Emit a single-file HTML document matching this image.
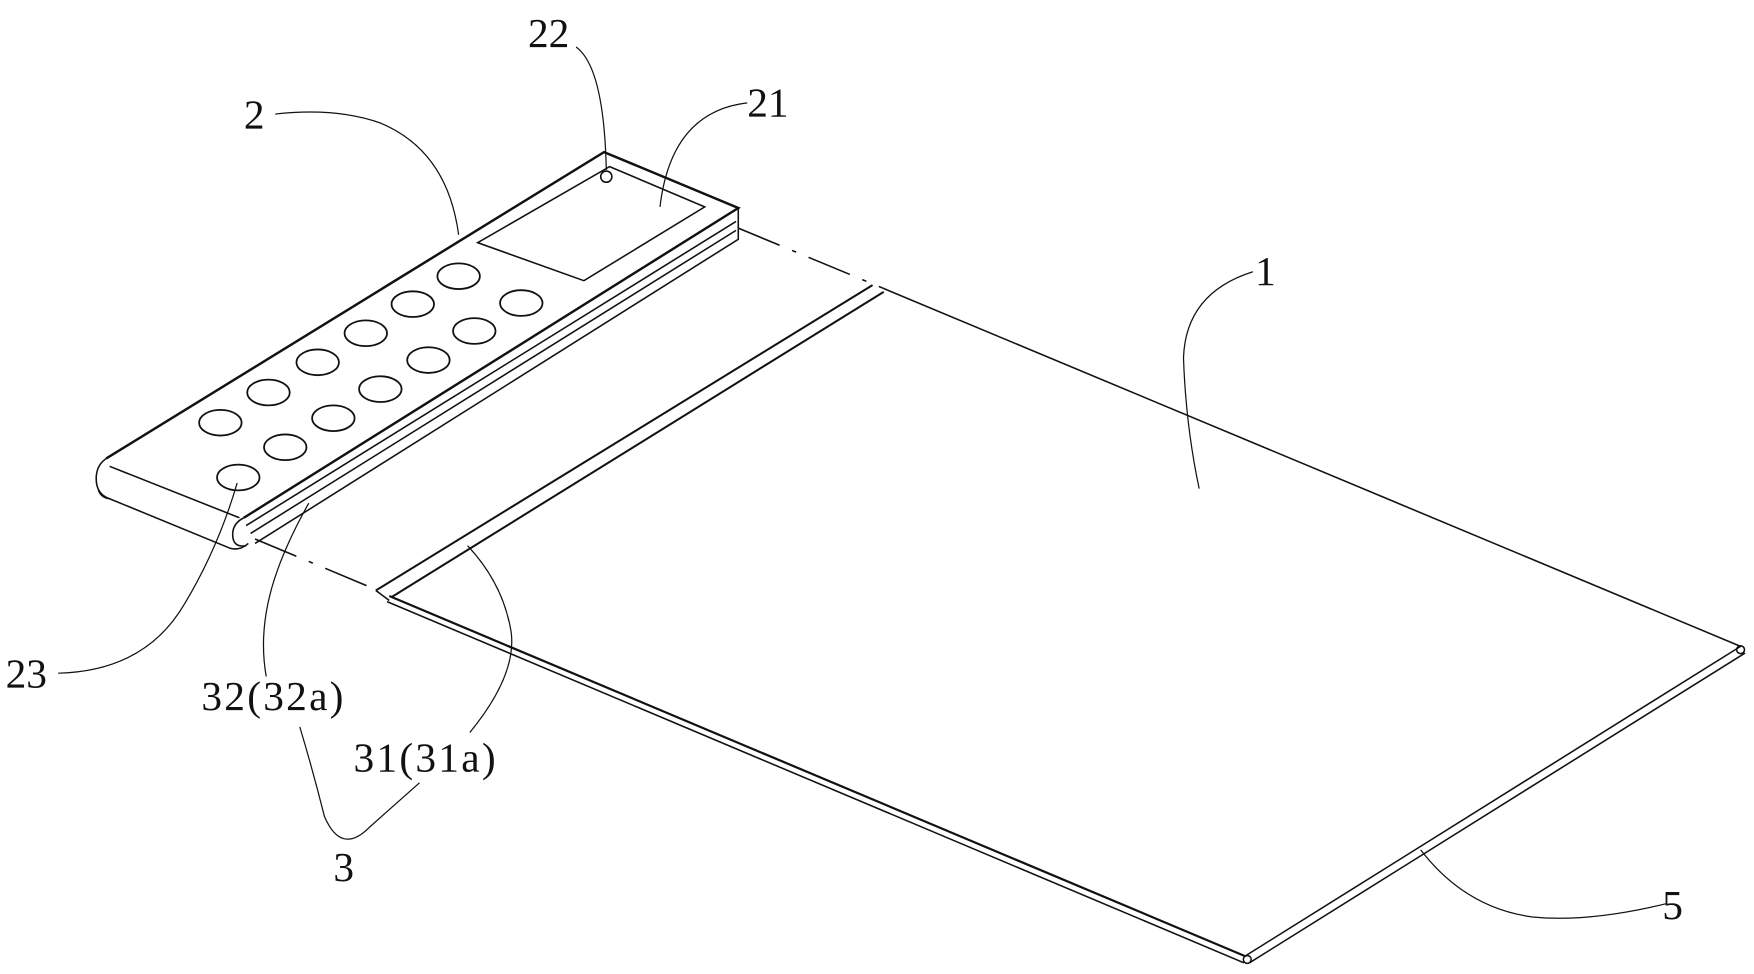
<!DOCTYPE html>
<html><head><meta charset="utf-8"><style>
html,body{margin:0;padding:0;background:#fff;}
svg{display:block}
text{font-family:"Liberation Serif",serif;font-size:37px;fill:#111}
</style></head><body>
<svg width="1754" height="974" viewBox="0 0 1568 871" preserveAspectRatio="none" xmlns="http://www.w3.org/2000/svg">
<g fill="none" stroke="#111" stroke-width="1.4">
<!-- sheet -->
<line x1="790" y1="258" x2="1556" y2="578"/>
<line x1="1556" y1="578" x2="1113" y2="855"/>
<line x1="1560" y1="584" x2="1117" y2="861"/>
<circle cx="1556" cy="581" r="3.5"/>
<circle cx="1115" cy="858" r="3.5"/>
<line x1="348" y1="533" x2="1113" y2="855" stroke-width="2"/>
<line x1="346" y1="538" x2="1112" y2="861"/>
<!-- strip -->
<line x1="336" y1="528" x2="780" y2="255" stroke-width="1.8"/>
<line x1="350" y1="534" x2="790" y2="261" stroke-width="1.8"/>
<line x1="336" y1="528" x2="348" y2="537"/>
<!-- dashed -->
<line x1="660" y1="204" x2="790" y2="258" stroke-dasharray="40,12,4,12"/>
<line x1="228" y1="482" x2="338" y2="528" stroke-dasharray="40,12,4,12"/>
<!-- device 2 top face -->
<path d="M95,410 L540,136 L660,186 L218,463" stroke-width="2.2"/>
<path d="M98,417 L214,463" />
<path d="M660,186 L660,214 L228,486"/>
<path d="M220,470 L658,198"/>
<path d="M224,477 L658,206"/>
<path d="M95,410 Q86,416 86,428 Q86,442 98,446 L205,490 Q214,493 222,486"/>
<path d="M218,463 Q208,468 208,478 Q208,490 220,488"/>
<path d="M88,438 Q90,445 98,446"/>
<!-- screen -->
<path d="M427,217 L545,149 L630,185 L522,251 Z"/>
<circle cx="542" cy="158" r="5"/>
<!-- buttons -->
<g stroke-width="1.6">
<ellipse cx="197" cy="378" rx="19" ry="11.5"/>
<ellipse cx="240" cy="351" rx="19" ry="11.5"/>
<ellipse cx="284" cy="324" rx="19" ry="11.5"/>
<ellipse cx="327" cy="298" rx="19" ry="11.5"/>
<ellipse cx="369" cy="272" rx="19" ry="11.5"/>
<ellipse cx="410" cy="247" rx="19" ry="11.5"/>
<ellipse cx="213" cy="427" rx="19" ry="11.5"/>
<ellipse cx="255" cy="400" rx="19" ry="11.5"/>
<ellipse cx="298" cy="374" rx="19" ry="11.5"/>
<ellipse cx="340" cy="348" rx="19" ry="11.5"/>
<ellipse cx="383" cy="322" rx="19" ry="11.5"/>
<ellipse cx="424" cy="296" rx="19" ry="11.5"/>
<ellipse cx="466" cy="271" rx="19" ry="11.5"/>
</g>
<!-- leaders -->
<g stroke-width="1.1">
<path d="M515,42 Q540,60 542,152"/>
<path d="M668,92 Q600,100 590,185"/>
<path d="M246,102 Q300,96 340,110 Q400,135 410,210"/>
<path d="M1120,243 Q1060,262 1058,320 Q1060,380 1072,437"/>
<path d="M52,602 Q130,600 165,540 Q195,490 212,432"/>
<path d="M238,605 Q230,560 248,510 Q258,482 276,450"/>
<path d="M420,655 Q465,600 456,560 Q448,520 418,488"/>
<path d="M268,650 Q280,690 290,730 Q305,765 330,740 L375,700"/>
<path d="M1490,808 Q1420,825 1370,820 Q1310,812 1270,760"/>
</g>
</g>
<text x="472" y="42">22</text>
<text x="668" y="104">21</text>
<text x="218" y="115">2</text>
<text x="1122" y="255">1</text>
<text x="5" y="615">23</text>
<text x="180" y="635" letter-spacing="2">32(32a)</text>
<text x="316" y="690" letter-spacing="2">31(31a)</text>
<text x="298" y="788">3</text>
<text x="1486" y="822">5</text>
</svg>
</body></html>
